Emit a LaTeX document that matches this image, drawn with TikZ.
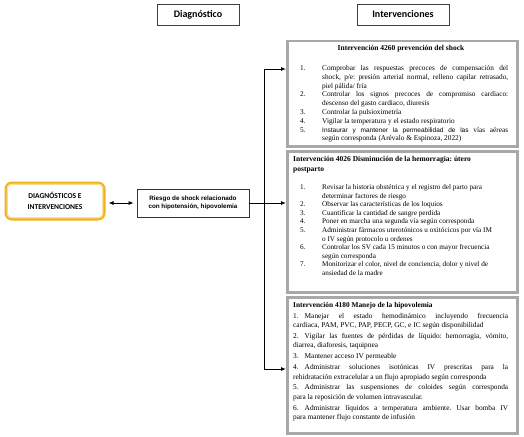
\documentclass[tikz,border=0pt]{standalone}
\usepackage{fontspec}
\usepackage{array}
\setmainfont{Liberation Serif}
\newfontfamily\carlito{Carlito}
\newfontfamily\arialf{Liberation Sans}
\usetikzlibrary{arrows.meta,calc}
\definecolor{gold}{HTML}{F0B31A}
\definecolor{paleg}{HTML}{FAE3A0}
\definecolor{boxgray}{HTML}{A8A8A8}
\frenchspacing
\begin{document}
\frenchspacing
\begin{tikzpicture}[x=1pt,y=-1pt,
  hdr/.style={draw=black!75, line width=0.8pt, fill=white, minimum height=21pt, inner sep=0pt, font=\carlito\bfseries\fontsize{10}{12}\selectfont},
  ybox/.style={draw=gold, line width=3pt, rounded corners=6pt, minimum width=98pt, minimum height=36pt, inner sep=0pt, align=center, font=\carlito\bfseries\fontsize{7.5}{11}\selectfont},
  dbox/.style={draw=black!80, line width=0.7pt, minimum width=112pt, minimum height=28pt, inner sep=0pt, align=center, font=\arialf\bfseries\fontsize{6.3}{8}\selectfont},
  gbox/.style={draw=boxgray, line width=2.5pt, minimum width=230pt, anchor=north west, inner sep=0pt},
  lst/.style={anchor=base west, inner sep=0pt},
  arr/.style={-{Latex[length=5pt,width=4pt]}, line width=0.9pt},
  darr/.style={{Latex[length=5pt,width=4pt]}-{Latex[length=5pt,width=4pt]}, line width=0.9pt}
]
\useasboundingbox (0,0) rectangle (524,436);
\fill[white] (0,0) rectangle (524,436);

\node[hdr, minimum width=82pt] (hd) at (198,14.5) {Diagnóstico};
\node[hdr, minimum width=92pt] (hi) at (403,14.5) {Intervenciones};

\node[ybox] (yb) at (55,201) {DIAGNÓSTICOS E\\INTERVENCIONES};
\draw[paleg, line width=0.8pt, rounded corners=4pt] ($(yb.north west)+(2.6,2.6)$) rectangle ($(yb.south east)+(-2.6,-2.6)$);

\node[dbox] (dx) at (193,203) {Riesgo de shock relacionado\\con hipotensión, hipovolemia};

\node[gbox, minimum height=105pt] (b1) at (286,40) {};
\node[gbox, minimum height=141pt] (b2) at (286,150) {};
\node[gbox, minimum height=136pt] (b3) at (286,296) {};

% connectors
\draw[darr, shorten <=3pt, shorten >=3pt] (yb.east |- dx.west) -- (dx.west);
\coordinate (v1) at (264,69);
\coordinate (v3) at (264,369);
\draw[line width=0.9pt] (v1) -- (v3);
\draw[arr] (v1) -- (v1 -| b1.west);
\draw[arr] (dx.east) -- (dx.east -| b2.west);
\draw[arr] (v3) -- (v3 -| b3.west);

% box 1
\node[anchor=base, inner sep=0pt, font=\bfseries\fontsize{7.5}{9}\selectfont] (t1) at (401,51) {Intervención 4260 prevención del shock};
\node[lst, font=\fontsize{7.3}{8.8}\selectfont] (l1) at (300,70.5) {%
\begin{tabular}[t]{@{}p{22pt}@{}p{186pt}@{}}
1. & \frenchspacing Comprobar las respuestas precoces de compensación del\linebreak shock, p/e: presión arterial normal, relleno capilar retrasado,\linebreak piel pálida/ fría\\
2. & \frenchspacing Controlar los signos precoces de compromiso cardiaco:\linebreak descenso del gasto cardiaco, diuresis\\
3. & Controlar la pulsioximetría\\
4. & Vigilar la temperatura y el estado respiratorio\\
5. & \frenchspacing{\arialf\fontsize{6.5}{8.8}\selectfont Instaurar y mantener la permeabilidad de las} vías aéreas\linebreak según corresponda (Arévalo \& Espinoza, 2022)
\end{tabular}};

% box 2
\node[lst, font=\bfseries\fontsize{7.5}{10}\selectfont] (t2) at (293,161.5) {%
\begin{tabular}[t]{@{}l@{}}\frenchspacing Intervención 4026 Disminución de la hemorragia: útero\\postparto\end{tabular}};
\node[lst, font=\fontsize{7.2}{8.6}\selectfont] (l2) at (300,189.5) {%
\begin{tabular}[t]{@{}p{22pt}@{}>{\raggedright\arraybackslash}p{186pt}@{}}
1. & Revisar la historia obstétrica y el registro del parto para\newline determinar factores de riesgo\\
2. & Observar las características de los loquios\\
3. & Cuantificar la cantidad de sangre perdida\\
4. & Poner en marcha una segunda vía según corresponda\\
5. & Administrar fármacos uterotónicos u oxitócicos por vía IM\newline o IV según protocolo u ordenes\\
6. & Controlar los SV cada 15 minutos o con mayor frecuencia\newline según corresponda\\
7. & Monitorizar el color, nivel de conciencia, dolor y nivel de\newline ansiedad de la madre
\end{tabular}};

% box 3
\node[lst, font=\fontsize{7.35}{9.3}\selectfont] (l3) at (293,307.5) {%
\begin{tabular}[t]{@{}p{215pt}@{}}
\frenchspacing\setlength{\parskip}{1.6pt}%
{\bfseries Intervención 4180 Manejo de la hipovolemia}\par
1.\hspace{6pt}Manejar el estado hemodinámico incluyendo frecuencia\linebreak cardiaca, PAM, PVC, PAP, PECP, GC, e IC según disponibilidad\par
2.\hspace{6pt}Vigilar las fuentes de pérdidas de líquido: hemorragia, vómito,\linebreak diarrea, diaforesis, taquipnea\par
3.\hspace{6pt}Mantener acceso IV permeable\par
4.\hspace{6pt}Administrar soluciones isotónicas IV prescritas para la\linebreak rehidratación extracelular a un flujo apropiado según corresponda\par
5.\hspace{6pt}Administrar las suspensiones de coloides según corresponda\linebreak para la reposición de volumen intravascular.\par
6.\hspace{6pt}Administrar líquidos a temperatura ambiente. Usar bomba IV\linebreak para mantener flujo constante de infusión
\end{tabular}};
\end{tikzpicture}
\end{document}
